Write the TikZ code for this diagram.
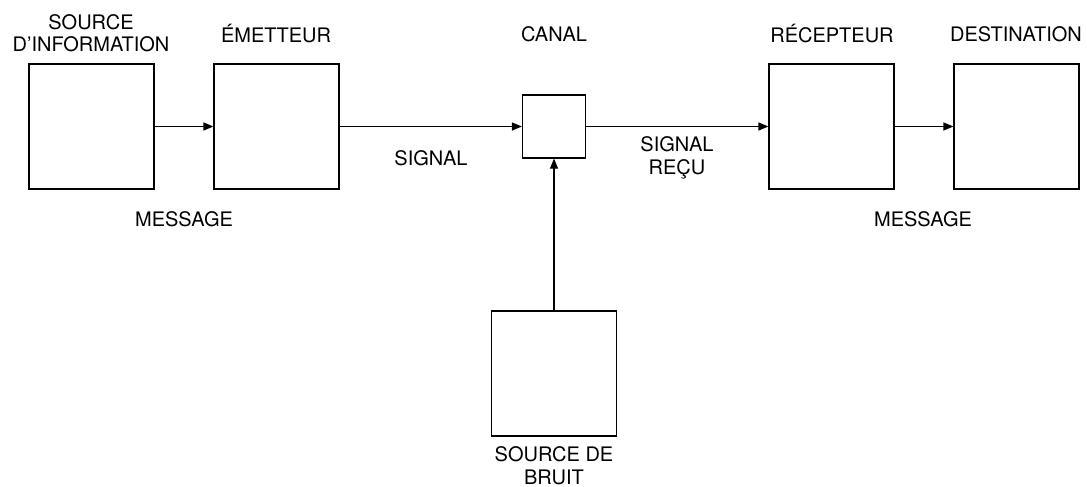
\documentclass[tikz,border=0pt]{standalone}
\usepackage{fontspec}
\setmainfont{TeX Gyre Heros}
\usetikzlibrary{arrows.meta}
\begin{document}
\begin{tikzpicture}[x=1pt,y=-1pt,
  blk/.style={draw, line width=1.2pt, minimum width=125pt, minimum height=125pt, inner sep=0pt},
  smallblk/.style={draw, line width=1.2pt, minimum width=63pt, minimum height=63pt, inner sep=0pt},
  lbl/.style={font=\fontsize{20}{22.5}\selectfont, inner sep=0pt, anchor=base, align=center},
  conn/.style={line width=1.2pt, -{Triangle[length=10pt,width=8pt]}}]
\useasboundingbox (0,0) rectangle (1087,487);
\node[blk] (src) at (91.5,126.5) {};
\node[blk] (em) at (276.5,126.5) {};
\node[smallblk] (canal) at (554,126.5) {};
\node[blk] (rec) at (831.5,126.5) {};
\node[blk] (dest) at (1016.5,126.5) {};
\node[blk] (noise) at (554,373.5) {};
\draw[conn] (src) -- (em);
\draw[conn] (em) -- (canal);
\draw[conn] (canal) -- (rec);
\draw[conn] (rec) -- (dest);
\draw[conn] (noise) -- (canal);
\node[lbl] (tsrc) at (91,52) {SOURCE\\D’INFORMATION};
\node[lbl] (tem) at (276,43) {ÉMETTEUR};
\node[lbl] (tcanal) at (554,42) {CANAL};
\node[lbl] (trec) at (832,43) {RÉCEPTEUR};
\node[lbl] (tdest) at (1016,42) {DESTINATION};
\node[lbl] (tsig) at (431,165) {SIGNAL};
\node[lbl] (tsigr) at (677,174) {SIGNAL\\REÇU};
\node[lbl] (tm1) at (184,226) {MESSAGE};
\node[lbl] (tm2) at (923,226) {MESSAGE};
\node[lbl] (tnoise) at (554,484) {SOURCE DE\\BRUIT};
\end{tikzpicture}
\end{document}
